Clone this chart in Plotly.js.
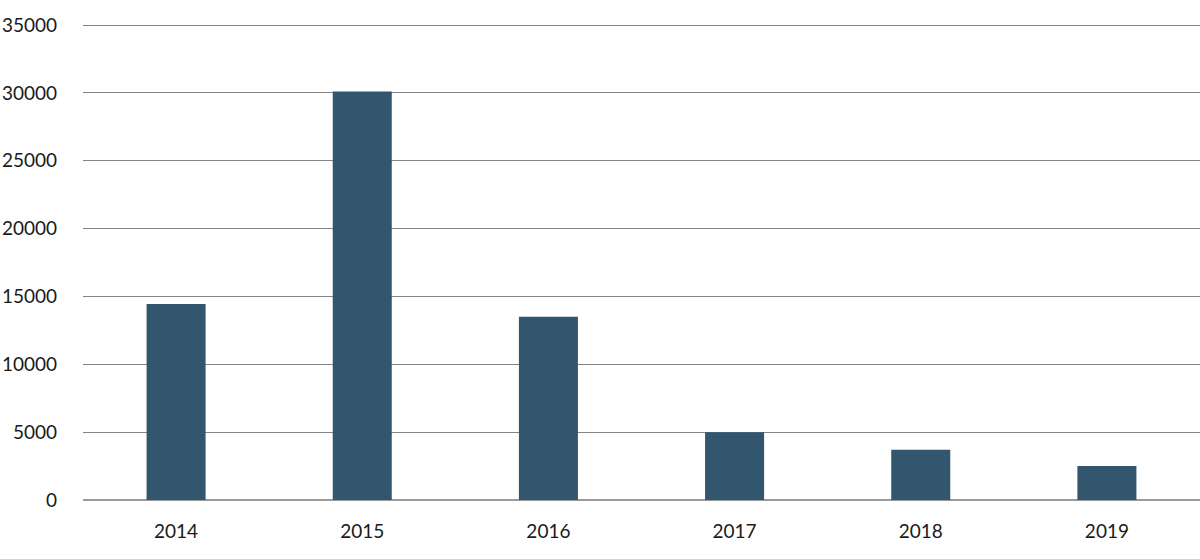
<!DOCTYPE html>
<html>
<head>
<meta charset="utf-8">
<script src="https://cdn.plot.ly/plotly-3.0.1.min.js"></script>
<style>
  html, body { margin: 0; padding: 0; background: #fff; }
  #chart { width: 1200px; height: 559px; }
</style>
</head>
<body>
<div id="chart"></div>
<script>
const years = ['2014', '2015', '2016', '2017', '2018', '2019'];
const counts = [14450, 30100, 13500, 5000, 3700, 2500];
const yTicks = [0, 5000, 10000, 15000, 20000, 25000, 30000, 35000];

const trace = {
    x: years,
    y: counts,
    type: 'bar',
    marker: { color: '#32566e' },
    hoverinfo: 'x+y'
};

const layout = {
    width: 1200,
    height: 559,
    margin: { l: 83, r: 0, t: 24, b: 59 },
    paper_bgcolor: '#fff',
    plot_bgcolor: '#fff',
    bargap: 0.683,
    showlegend: false,
    font: { family: 'Lato, "Open Sans", sans-serif', size: 19, color: '#1a1a1a' },
    xaxis: {
        type: 'category',
        showgrid: false,
        showline: false,
        ticks: '',
        ticklabelstandoff: 18,
        tickfont: { size: 19 }
    },
    yaxis: {
        range: [0, 35075],
        tickvals: yTicks,
        ticktext: yTicks.map(String),
        showgrid: true,
        gridcolor: '#858585',
        gridwidth: 1,
        zeroline: true,
        zerolinecolor: '#9a9a9a',
        zerolinewidth: 2,
        ticks: '',
        ticklabelstandoff: 25,
        tickfont: { size: 19 }
    }
};

Plotly.newPlot('chart', [trace], layout, { displayModeBar: false, staticPlot: true });
</script>
</body>
</html>
